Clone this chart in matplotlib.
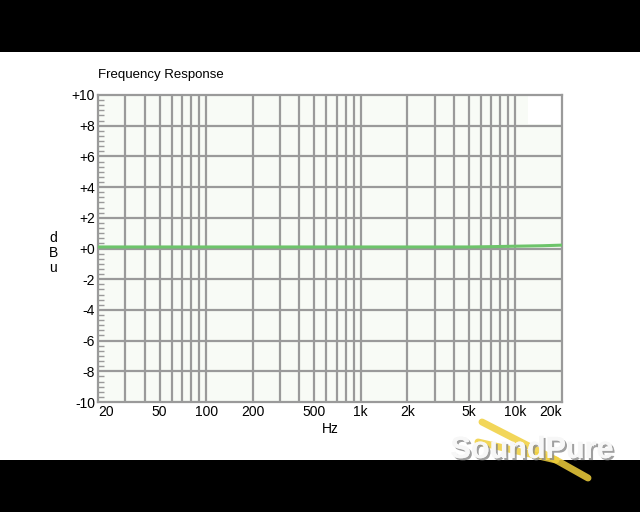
import matplotlib.pyplot as plt
import matplotlib.patheffects as pe
from matplotlib.patches import Rectangle
from matplotlib.ticker import FixedLocator, NullFormatter

plt.rcParams['font.family'] = ['Liberation Sans', 'DejaVu Sans']

# data
freq = [20, 50, 100, 200, 500, 1000, 2000, 5000, 7000, 10000, 15000, 20000]
level = [0.1, 0.1, 0.1, 0.1, 0.1, 0.1, 0.1, 0.1, 0.12, 0.15, 0.18, 0.22]

x_ticks = [20, 50, 100, 200, 500, 1000, 2000, 5000, 10000, 20000]
x_labels = ['20', '50', '100', '200', '500', '1k', '2k', '5k', '10k', '20k']
grid_freqs = [30, 40, 50, 60, 70, 80, 90, 100, 200, 300, 400, 500, 600, 700,
              800, 900, 1000, 2000, 3000, 4000, 5000, 6000, 7000, 8000, 9000, 10000]
y_ticks = [-10, -8, -6, -4, -2, 0, 2, 4, 6, 8, 10]
y_labels = ['-10', '-8', '-6', '-4', '-2', '+0', '+2', '+4', '+6', '+8', '+10']

W, H = 640, 512
fig = plt.figure(figsize=(W / 100, H / 100), dpi=100, facecolor='black')
fig.patches.append(Rectangle((0, 52 / H), 1, 408 / H, transform=fig.transFigure,
                             facecolor='white', edgecolor='none', zorder=-10))

ax = fig.add_axes([98 / W, 1 - 402 / H, 464 / W, 307 / H])
ax.set_facecolor('#f8fbf6')
ax.set_xscale('log')
ax.set_xlim(20, 20000)
ax.set_ylim(-10, 10)

grid_c = '#9a9a9a'
for f in grid_freqs:
    ax.axvline(f, color=grid_c, lw=1.6, zorder=1)
for y in y_ticks[1:-1]:
    ax.axhline(y, color=grid_c, lw=1.6, zorder=1)

# empty box top right
ax.add_patch(Rectangle((12000, 8.1), 9000, 2.0, facecolor='white',
                       edgecolor='none', zorder=2))

ax.plot(freq, level, color='#6dc46a', lw=2.2, zorder=3)

for s in ax.spines.values():
    s.set_color(grid_c)
    s.set_linewidth(1.6)

ax.xaxis.set_major_locator(FixedLocator(x_ticks))
ax.set_xticklabels(x_labels)
ax.xaxis.set_minor_locator(FixedLocator([]))
ax.xaxis.set_minor_formatter(NullFormatter())
ax.tick_params(axis='x', length=0, pad=2, labelsize=10)
for lab in ax.get_xticklabels():
    t = lab.get_text()
    if t == '20':
        lab.set_horizontalalignment('left')
    elif t == '20k':
        lab.set_horizontalalignment('right')

ax.set_yticks(y_ticks)
ax.set_yticklabels(y_labels)
ax.set_yticks([y / 3 for y in range(-30, 31) if y % 6 != 0], minor=True)
ax.tick_params(axis='y', which='major', length=0, pad=2, labelsize=10)
ax.tick_params(axis='y', which='minor', direction='in', length=4,
               color=grid_c, width=1)

ax.set_xlabel('Hz', fontsize=10, labelpad=2)
fig.text(53 / W, 1 - 253 / H, 'd\nB\nu', fontsize=10, ha='center', va='center',
         linespacing=1.05)
fig.text(98 / W, 1 - 75 / H, 'Frequency Response', fontsize=9.5, ha='left',
         va='center')

# watermark
fork = dict(transform=fig.transFigure, color='#f0cf3c', lw=5, alpha=0.85,
            solid_capstyle='round', solid_joinstyle='round', zorder=5)
fig.lines.append(plt.Line2D([482 / W, 556 / W, 588 / W],
                            [1 - 422 / H, 1 - 460 / H, 1 - 478 / H], **fork))
fig.lines.append(plt.Line2D([478 / W, 556 / W], [1 - 442 / H, 1 - 460 / H], **fork))
fig.text(532 / W, 1 - 450 / H, 'SoundPure', fontsize=22,
         fontweight='bold', color='#f7f7f7', ha='center', va='center', zorder=6,
         path_effects=[pe.withSimplePatchShadow(offset=(1.5, -1.5),
                                                shadow_rgbFace='#888888',
                                                alpha=0.8),
                       pe.Normal()])

fig.savefig('out.png', dpi=100, facecolor=fig.get_facecolor())
